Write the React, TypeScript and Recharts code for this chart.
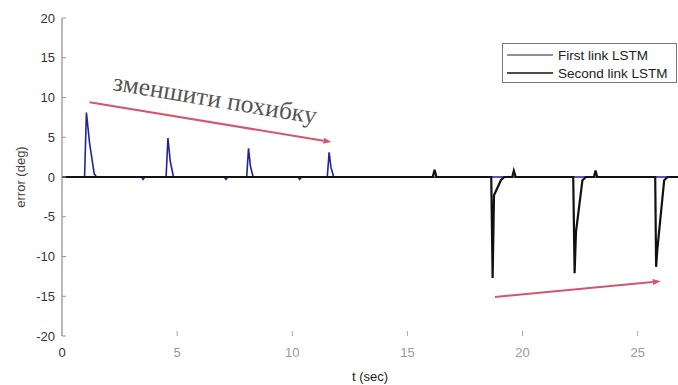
import React from 'react';
import { LineChart, Line, XAxis, YAxis, ReferenceLine, ReferenceDot } from 'recharts';

// Series: "First link LSTM" (black, negative spikes)
const firstT = [0, 16.1, 16.18, 16.26, 18.64, 18.7, 18.76, 19.06, 19.2, 19.55, 19.62, 19.7, 22.2, 22.26, 22.32, 22.6, 22.75, 23.1, 23.17, 23.24, 25.76, 25.8, 25.85, 26.15, 26.3, 26.75];
const firstE = [0, 0, 0.9, 0, 0, -12.7, -2.3, -0.4, 0, 0, 0.8, 0, 0, -12.1, -6.9, -0.4, 0, 0, 0.8, 0, 0, -11.3, -9.2, -0.4, 0, 0];

// Series: "Second link LSTM" (navy, positive spikes)
const secondT = [0, 0.98, 1.06, 1.2, 1.4, 1.5, 3.45, 3.52, 3.6, 4.52, 4.6, 4.7, 4.84, 7.05, 7.12, 7.2, 8.02, 8.1, 8.18, 8.3, 10.25, 10.32, 10.4, 11.52, 11.6, 11.68, 11.8, 26.75];
const secondE = [0, 0, 8.1, 4.2, 0.4, 0, 0, -0.3, 0, 0, 4.9, 2.0, 0, 0, -0.3, 0, 0, 3.6, 1.4, 0, 0, -0.3, 0, 0, 3.1, 1.2, 0, 0];

const seriesNames = ['First link LSTM', 'Second link LSTM'];
const seriesColors = ['#111111', '#22229a'];

const xTicks = [0, 5, 10, 15, 20, 25];
const yTicks = [-20, -15, -10, -5, 0, 5, 10, 15, 20];
const xDomain = [0, 26.75];
const yDomain = [-20, 20];

// Annotations (data coordinates)
const arrowTop = [{ x: 1.2, y: 9.4 }, { x: 11.7, y: 4.4 }];
const arrowBottom = [{ x: 18.8, y: -15.1 }, { x: 26.0, y: -13.1 }];
const noteText = 'зменшити похибку';
const noteAnchor = { x: 6.63, y: 9.56 };

const firstData = firstT.map((t, i) => ({ t, e: firstE[i] }));
const secondData = secondT.map((t, i) => ({ t, e: secondE[i] }));

const SANS = '"Liberation Sans", Arial, sans-serif';
const SERIF = '"Liberation Serif", "Times New Roman", serif';
const ARROW_COLOR = '#d4566c';

const YTick = (props: any) => {
  const { x, y, payload } = props;
  return (
    <g>
      <line x1={x} x2={x + 4} y1={y} y2={y} stroke="#999" />
      <text x={x - 7} y={y} dy={4.5} textAnchor="end" fontSize={13} fill="#333" fontFamily={SANS}>
        {payload.value}
      </text>
    </g>
  );
};

const XTick = (props: any) => {
  const { x, y, payload } = props;
  return (
    <g>
      <line x1={x} x2={x} y1={y} y2={y - 5} stroke="#aaa" />
      <text x={x} y={y + 21} textAnchor="middle" fontSize={13} fill={payload.value === 0 ? '#333' : '#999'} fontFamily={SANS}>
        {payload.value}
      </text>
    </g>
  );
};

const TopTick = (props: any) => {
  const { x, y } = props;
  return <line x1={x} x2={x} y1={y} y2={y + 5} stroke="#bbb" />;
};

const ArrowShape = (p: any) => {
  const { x1, y1, x2, y2 } = p;
  const ang = Math.atan2(y2 - y1, x2 - x1);
  const L = 8;
  const W = 3;
  const bx = x2 - L * Math.cos(ang);
  const by = y2 - L * Math.sin(ang);
  const px = -Math.sin(ang) * W;
  const py = Math.cos(ang) * W;
  return (
    <g>
      <line x1={x1} y1={y1} x2={bx} y2={by} stroke={ARROW_COLOR} strokeWidth={2} />
      <polygon points={`${x2},${y2} ${bx + px},${by + py} ${bx - px},${by - py}`} fill={ARROW_COLOR} />
    </g>
  );
};

const NoteShape = (p: any) => {
  const { cx, cy } = p;
  return (
    <text
      x={cx}
      y={cy}
      dy={6}
      textAnchor="middle"
      fontSize={25}
      fill="#555"
      fontFamily={SERIF}
      textLength={206}
      lengthAdjust="spacingAndGlyphs"
      transform={`rotate(9.5 ${cx} ${cy})`}
    >
      {noteText}
    </text>
  );
};

const LegendBox = () => (
  <div
    style={{
      position: 'absolute',
      left: 502,
      top: 43,
      width: 175,
      height: 40,
      border: '1px solid #777',
      background: '#fff',
      fontFamily: SANS,
      fontSize: 13.5,
      color: '#222',
      boxSizing: 'border-box',
    }}
  >
    {seriesNames.map((name, i) => (
      <div key={name} style={{ position: 'absolute', left: 4, top: 3 + i * 18, height: 16, display: 'flex', alignItems: 'center' }}>
        <svg width={46} height={16}>
          <line x1={0} x2={46} y1={8} y2={8} stroke={i === 0 ? '#222' : '#111'} strokeWidth={i === 0 ? 1 : 1.4} />
        </svg>
        <span style={{ marginLeft: 5, whiteSpace: 'nowrap' }}>{name}</span>
      </div>
    ))}
  </div>
);

export default function App() {
  return (
    <div style={{ position: 'absolute', left: 0, top: 0, width: 678, height: 385, background: '#fff' }}>
      <LineChart width={678} height={385} margin={{ top: 18, right: 0, bottom: 0, left: 0 }}>
        <XAxis
          xAxisId="top"
          orientation="top"
          type="number"
          dataKey="t"
          domain={xDomain}
          ticks={xTicks}
          height={0}
          tickSize={0}
          tickMargin={0}
          axisLine={{ stroke: '#a8a8a8' }}
          tickLine={false}
          tick={<TopTick />}
          interval={0}
        />
        <XAxis
          type="number"
          dataKey="t"
          domain={xDomain}
          ticks={xTicks}
          height={49}
          tickSize={0}
          tickMargin={0}
          axisLine={false}
          tickLine={false}
          tick={<XTick />}
          interval={0}
          allowDataOverflow
          label={{
            content: (lp: any) => {
              const vb = lp.viewBox;
              return (
                <text x={vb.x + vb.width / 2} y={vb.y + 45} textAnchor="middle" fontSize={13} fill="#222" fontFamily={SANS}>
                  t (sec)
                </text>
              );
            },
          }}
        />
        <YAxis
          type="number"
          domain={yDomain}
          ticks={yTicks}
          width={62}
          tickSize={0}
          tickMargin={0}
          axisLine={{ stroke: '#777' }}
          tickLine={false}
          tick={<YTick />}
          interval={0}
          allowDataOverflow
          label={{
            content: (lp: any) => {
              const vb = lp.viewBox;
              const cx = vb.x + 21;
              const cy = vb.y + vb.height / 2;
              return (
                <text x={cx} y={cy} dy={4} textAnchor="middle" fontSize={13} fill="#444" fontFamily={SANS} transform={`rotate(-90 ${cx} ${cy})`}>
                  error (deg)
                </text>
              );
            },
          }}
        />
        <Line data={secondData} dataKey="e" name={seriesNames[1]} type="linear" dot={false} stroke={seriesColors[1]} strokeWidth={1.6} isAnimationActive={false} />
        <Line data={firstData} dataKey="e" name={seriesNames[0]} type="linear" dot={false} stroke={seriesColors[0]} strokeWidth={2.2} isAnimationActive={false} />
        <ReferenceLine segment={arrowTop} shape={<ArrowShape />} ifOverflow="visible" />
        <ReferenceLine segment={arrowBottom} shape={<ArrowShape />} ifOverflow="visible" />
        <ReferenceDot x={noteAnchor.x} y={noteAnchor.y} r={0} shape={<NoteShape />} ifOverflow="visible" />
      </LineChart>
      <LegendBox />
    </div>
  );
}
